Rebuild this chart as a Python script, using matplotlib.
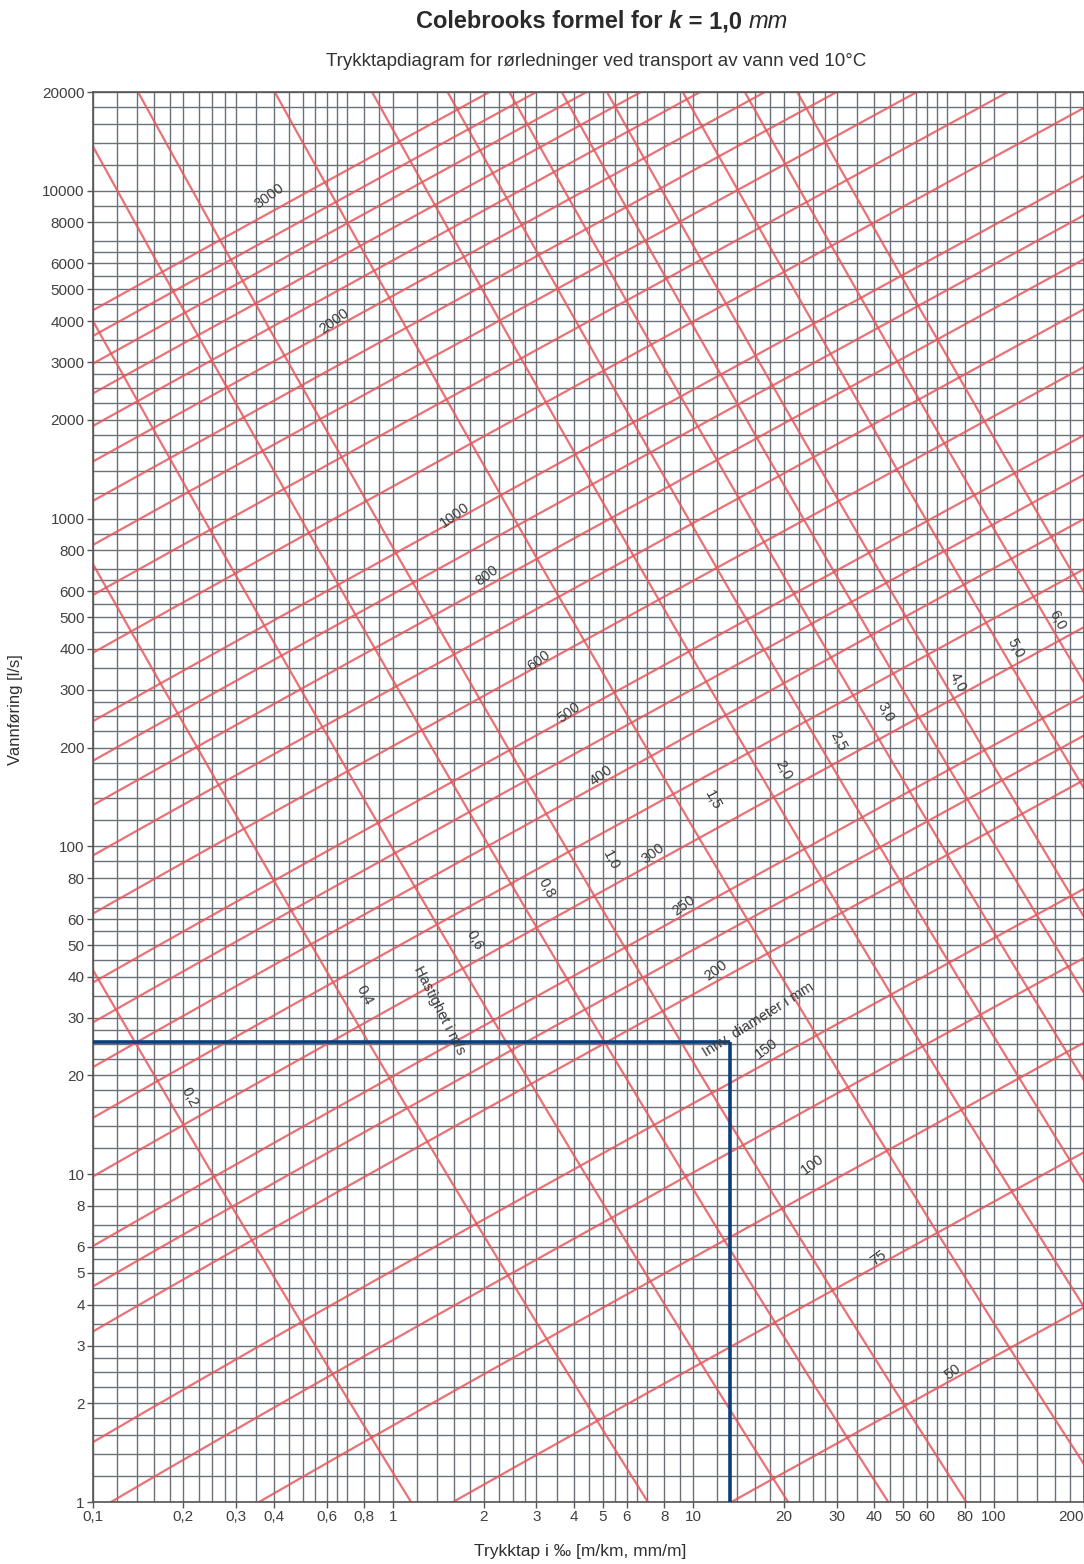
import numpy as np
import matplotlib
matplotlib.use('Agg')
import matplotlib.pyplot as plt
from matplotlib.ticker import FixedLocator

plt.rcParams['font.family'] = ['Liberation Sans', 'DejaVu Sans']

# %% data
# pipe diameters (mm) drawn as rising lines, flow velocities (m/s) as falling lines
diameters_mm = [50, 75, 100, 125, 150, 200, 225, 250, 300, 350, 400, 450, 500,
                600, 700, 800, 900, 1000, 1200, 1400, 1600, 1800, 2000, 2200,
                2400, 2600, 2800, 3000]
velocities = [0.2, 0.4, 0.6, 0.8, 1.0, 1.5, 2.0, 2.5, 3.0, 3.5, 4.0, 5.0, 6.0, 7.0]
k_rough = 1.0e-3      # m
nu_water = 1.31e-6    # m2/s, water at 10 C
g = 9.81

x_ticks = [0.1, 0.2, 0.3, 0.4, 0.6, 0.8, 1, 2, 3, 4, 5, 6, 8, 10, 20, 30, 40, 50, 60, 80, 100, 200]
x_ticklabels = ['0,1', '0,2', '0,3', '0,4', '0,6', '0,8', '1', '2', '3', '4', '5', '6', '8', '10',
                '20', '30', '40', '50', '60', '80', '100', '200']
y_ticks = [1, 2, 3, 4, 5, 6, 8, 10, 20, 30, 40, 50, 60, 80, 100, 200, 300, 400, 500, 600, 800,
           1000, 2000, 3000, 4000, 5000, 6000, 8000, 10000, 20000]
y_ticklabels = [str(v) for v in y_ticks]
grid_mantissa = [1, 1.2, 1.4, 1.6, 1.8, 2, 2.25, 2.5, 2.75, 3, 3.5, 4, 4.5, 5, 5.5, 6, 6.5, 7, 8, 9]

# line labels: text, trykktap (permille), vannforing (l/s)
diam_labels = [('3000', 0.387, 9660), ('2000', 0.637, 4015), ('1000', 1.6, 1021),
               ('800', 2.05, 670), ('600', 3.05, 369), ('500', 3.84, 256), ('400', 4.94, 164),
               ('300', 7.36, 95), ('250', 9.26, 66), ('200', 11.9, 41.9), ('150', 17.5, 24.2),
               ('100', 25, 10.7), ('75', 41.2, 5.55), ('50', 73, 2.49)]
vel_labels = [('0,2', 0.21, 17.2), ('0,4', 0.80, 35.1), ('0,6', 1.87, 51.7), ('0,8', 3.25, 74.5),
              ('1,0', 5.3, 90.6), ('1,5', 11.6, 138), ('2,0', 19.9, 171), ('2,5', 30.3, 210),
              ('3,0', 43.8, 256), ('4,0', 75.9, 316), ('5,0', 118, 402), ('6,0', 163, 489)]

# example reading drawn in blue
example_I = 13.2
example_Q = 25.3


# %% colebrook helpers
def flow_for_diameter(D, I):
	# I as fraction (m/m), returns Q in l/s
	s = np.sqrt(2 * g * D * I)
	inv_sqrt_lam = -2 * np.log10(k_rough / (3.7 * D) + 2.51 * nu_water / (D * s))
	v = inv_sqrt_lam * s
	return v * np.pi * D ** 2 / 4 * 1000


def loss_for_velocity(v, D):
	# returns I in permille and Q in l/s
	Re = v * D / nu_water
	lam = np.full_like(D, 0.03)
	for _ in range(40):
		lam = (-2 * np.log10(k_rough / (3.7 * D) + 2.51 / (Re * np.sqrt(lam)))) ** -2
	I = lam * v ** 2 / (2 * g * D)
	return I * 1000, v * np.pi * D ** 2 / 4 * 1000


# %% figure
fig = plt.figure(figsize=(10.84, 15.64), dpi=100)
ax = fig.add_axes([93 / 1084, 62 / 1564, 991 / 1084, 1410 / 1564])
ax.set_xscale('log')
ax.set_yscale('log')
ax.set_xlim(0.1, 200)
ax.set_ylim(1, 20000)

decades = [10.0 ** e for e in range(-1, 5)]
grid_x = [m * d for d in decades for m in grid_mantissa if 0.1 <= m * d <= 200]
grid_y = [m * d for d in decades for m in grid_mantissa if 1 <= m * d <= 20000]
for gx in grid_x:
	ax.axvline(gx, color='#6b7178', lw=1.0, zorder=1)
for gy in grid_y:
	ax.axhline(gy, color='#6b7178', lw=1.0, zorder=1)

red = '#e5595e'
I_grid = np.logspace(-1, np.log10(200), 300)
for d in diameters_mm:
	Q = flow_for_diameter(d / 1000, I_grid / 1000)
	ax.plot(I_grid, Q, color=red, lw=1.6, alpha=0.85, zorder=2)

D_grid = np.logspace(np.log10(0.01), np.log10(12), 400)
for v in velocities:
	I, Q = loss_for_velocity(v, D_grid)
	ax.plot(I, Q, color=red, lw=1.6, alpha=0.85, zorder=2)

# example reading
blue = '#0b3f7c'
ax.plot([0.1, example_I], [example_Q, example_Q], color=blue, lw=2.6, zorder=4, solid_capstyle='butt')
ax.plot([example_I, example_I], [example_Q, 1], color=blue, lw=2.6, zorder=4, solid_capstyle='butt')

lab_col = '#3a3a3a'
for txt, xi, yq in diam_labels:
	ax.text(xi, yq, txt, rotation=36, ha='center', va='center', fontsize=10.5, color=lab_col, zorder=5)
for txt, xi, yq in vel_labels:
	ax.text(xi, yq, txt, rotation=-62, ha='center', va='center', fontsize=10.5, color=lab_col, zorder=5)
ax.text(1.42, 31.6, 'Hastighet i m/s', rotation=-63, ha='center', va='center', fontsize=10.5,
	color=lab_col, zorder=5)
ax.text(16.4, 29.5, 'Innv. diameter i mm', rotation=32, ha='center', va='center', fontsize=10.5,
	color=lab_col, zorder=5)

# axes styling
ax.xaxis.set_major_locator(FixedLocator(x_ticks))
ax.xaxis.set_minor_locator(FixedLocator([]))
ax.set_xticklabels(x_ticklabels)
ax.yaxis.set_major_locator(FixedLocator(y_ticks))
ax.yaxis.set_minor_locator(FixedLocator([]))
ax.set_yticklabels(y_ticklabels)
ax.tick_params(axis='both', which='major', length=4, width=1, color='#555555',
	labelsize=11, labelcolor='#404040', pad=2)
xl = ax.get_xticklabels()
xl[-1].set_ha('right')
for sp in ax.spines.values():
	sp.set_color('#555555')
	sp.set_linewidth(1.2)

ax.set_ylabel('Vannføring [l/s]', fontsize=12, color='#303030')
ax.set_xlabel('Trykktap i ‰ [m/km, mm/m]', fontsize=12.5, color='#303030')
ax.xaxis.set_label_coords((580 - 93) / 991, -0.03)
ax.yaxis.set_label_coords(-0.071, (1502 - 710) / 1410)

# title built from pieces so k and mm get their own styles
renderer = fig.canvas.get_renderer()
parts = [('Colebrooks formel for ', 'bold', 'normal'), ('k', 'bold', 'italic'),
	(' = 1,0 ', 'bold', 'normal'), ('mm', 'normal', 'italic')]
texts = []
for s, w, st in parts:
	texts.append(fig.text(0, 1 - 22 / 1564, s, fontsize=17, fontweight=w, fontstyle=st,
		color='#2a2a2a', va='center', ha='left'))
widths = [t.get_window_extent(renderer).width for t in texts]
x0 = 602 - sum(widths) / 2
for t, w in zip(texts, widths):
	t.set_x(x0 / 1084)
	x0 += w

fig.text(596 / 1084, 1 - 62 / 1564, 'Trykktapdiagram for rørledninger ved transport av vann ved 10°C',
	fontsize=13.5, color='#333333', ha='center', va='center')

fig.savefig('out.png', dpi=100, facecolor='white')
